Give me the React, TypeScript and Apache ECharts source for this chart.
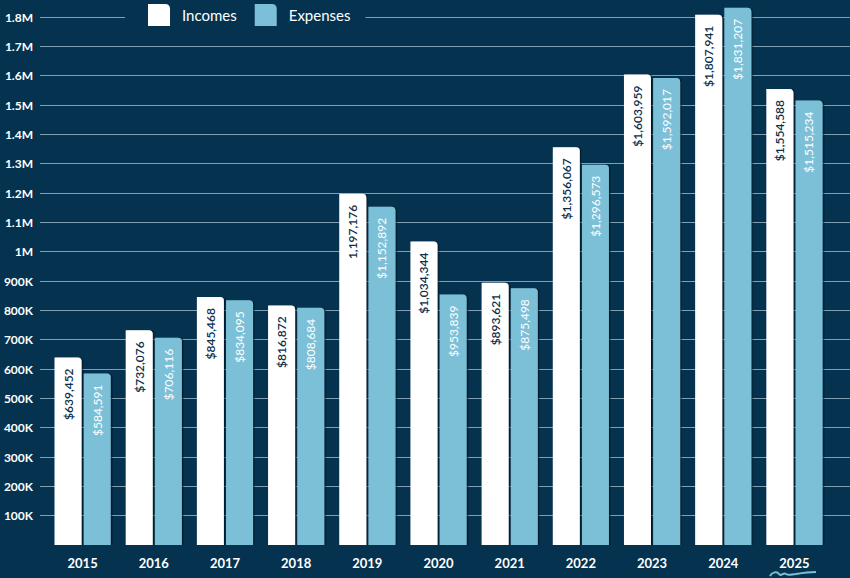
import React, { useEffect, useRef } from "react";
import * as echarts from "echarts";

const years = ["2015", "2016", "2017", "2018", "2019", "2020", "2021", "2022", "2023", "2024", "2025"];
const incomes = [639452, 732076, 845468, 816872, 1197176, 1034344, 893621, 1356067, 1603959, 1807941, 1554588];
const expenses = [584591, 706116, 834095, 808684, 1152892, 853839, 875498, 1296573, 1592017, 1831207, 1515234];
const incomeLabels = ["$639,452", "$732,076", "$845,468", "$816,872", "1,197,176", "$1,034,344", "$893,621", "$1,356,067", "$1,603,959", "$1,807,941", "$1,554,588"];
const expenseLabels = ["$584,591", "$706,116", "$834,095", "$808,684", "$1,152,892", "$953,839", "$875,498", "$1,296,573", "$1,592,017", "$1,831,207", "$1,515,234"];
const yMin = 0;
const yMax = 1800000;
const yStep = 100000;

const BG = "#05334f";
const LIGHT = "#7bc0d8";
const FONT = "Lato, 'Noto Sans', sans-serif";

echarts.graphic.registerShape(
  "squiggle",
  echarts.graphic.extendPath(
    "M0,7 C2,3 7,2 9,5 C11,8 13,3 16,5 C19,7 22,5 26,5 C32,4 38,3 46,3",
    {}
  )
);

export default function App() {
  const ref = useRef<HTMLDivElement>(null);
  useEffect(() => {
    if (!ref.current) return;
    const chart = echarts.init(ref.current, null, { renderer: "svg" });
    const fmt = (v: number) => {
      if (v === 0) return "";
      if (v >= 1000000) return parseFloat((v / 1000000).toFixed(1)) + "M";
      return Math.round(v / 1000) + "K";
    };
    const barShadow = {
      shadowColor: "rgba(0,18,36,0.75)",
      shadowOffsetX: 1.5,
      shadowOffsetY: 0,
      shadowBlur: 0,
    };
    // plot height = 578 - 17 - 33 = 528 for 0..1.8M; gridline grid starts at first step
    const plotH = 578 - 17 - 33;
    const stepPx = (plotH * yStep) / (yMax - yMin);
    chart.setOption({
      animation: false,
      backgroundColor: BG,
      textStyle: { fontFamily: FONT },
      legend: {
        left: 125,
        top: 2,
        padding: [2, 15, 2, 23],
        backgroundColor: BG,
        itemWidth: 22,
        itemHeight: 22,
        itemGap: 18,
        icon: "path://M0,0 L17,0 Q22,0 22,5 L22,22 L0,22 Z",
        textStyle: { color: "#ffffff", fontSize: 15, fontFamily: FONT, padding: [0, 0, 0, 7] },
        data: ["Incomes", "Expenses"],
      },
      grid: [
        { left: 40, right: 0, top: 17, bottom: 33 + stepPx },
        { left: 47, right: 20, top: 17, bottom: 33 },
      ],
      xAxis: [
        { type: "category", gridIndex: 0, data: years, show: false },
        {
          type: "category",
          gridIndex: 1,
          data: years,
          axisLine: { show: false },
          axisTick: { show: false },
          axisLabel: { color: "#ffffff", fontSize: 13, fontWeight: "bold", margin: 11, fontFamily: FONT },
        },
      ],
      yAxis: [
        {
          type: "value",
          gridIndex: 0,
          min: yMin + yStep,
          max: yMax,
          interval: yStep,
          axisLine: { show: false },
          axisTick: { show: false },
          axisLabel: { color: "#ffffff", fontSize: 12, fontWeight: "bold", margin: 7, formatter: fmt, fontFamily: FONT },
          splitLine: { show: true, lineStyle: { color: "#7f9fb5", width: 1 } },
        },
        {
          type: "value",
          gridIndex: 1,
          min: yMin,
          max: yMax,
          interval: yStep,
          show: false,
          splitLine: { show: false },
        },
      ],
      series: [
        {
          name: "Incomes",
          type: "bar",
          xAxisIndex: 1,
          yAxisIndex: 1,
          data: incomes,
          barWidth: 27,
          barGap: "8%",
          clip: false,
          itemStyle: { color: "#ffffff", borderRadius: [0, 4, 0, 0], ...barShadow },
          label: {
            show: true,
            position: "insideTop",
            rotate: 90,
            align: "right",
            verticalAlign: "middle",
            distance: 11,
            color: "#0b2f4a",
            fontSize: 12,
            fontWeight: 600,
            fontFamily: FONT,
            formatter: (p: any) => incomeLabels[p.dataIndex],
          },
        },
        {
          name: "Expenses",
          type: "bar",
          xAxisIndex: 1,
          yAxisIndex: 1,
          data: expenses,
          barWidth: 27,
          clip: false,
          itemStyle: { color: LIGHT, borderRadius: [0, 4, 0, 0], ...barShadow },
          label: {
            show: true,
            position: "insideTop",
            rotate: 90,
            align: "right",
            verticalAlign: "middle",
            distance: 11,
            color: "#ffffff",
            fontSize: 12,
            fontFamily: FONT,
            formatter: (p: any) => expenseLabels[p.dataIndex],
          },
        },
      ],
      graphic: [
        {
          type: "squiggle",
          x: 770,
          y: 569,
          style: { fill: "none", stroke: LIGHT, lineWidth: 2 },
          z: 10,
        },
      ],
    });
    return () => chart.dispose();
  }, []);
  return <div ref={ref} style={{ width: 850, height: 578, position: "absolute", left: 0, top: 0 }} />;
}
